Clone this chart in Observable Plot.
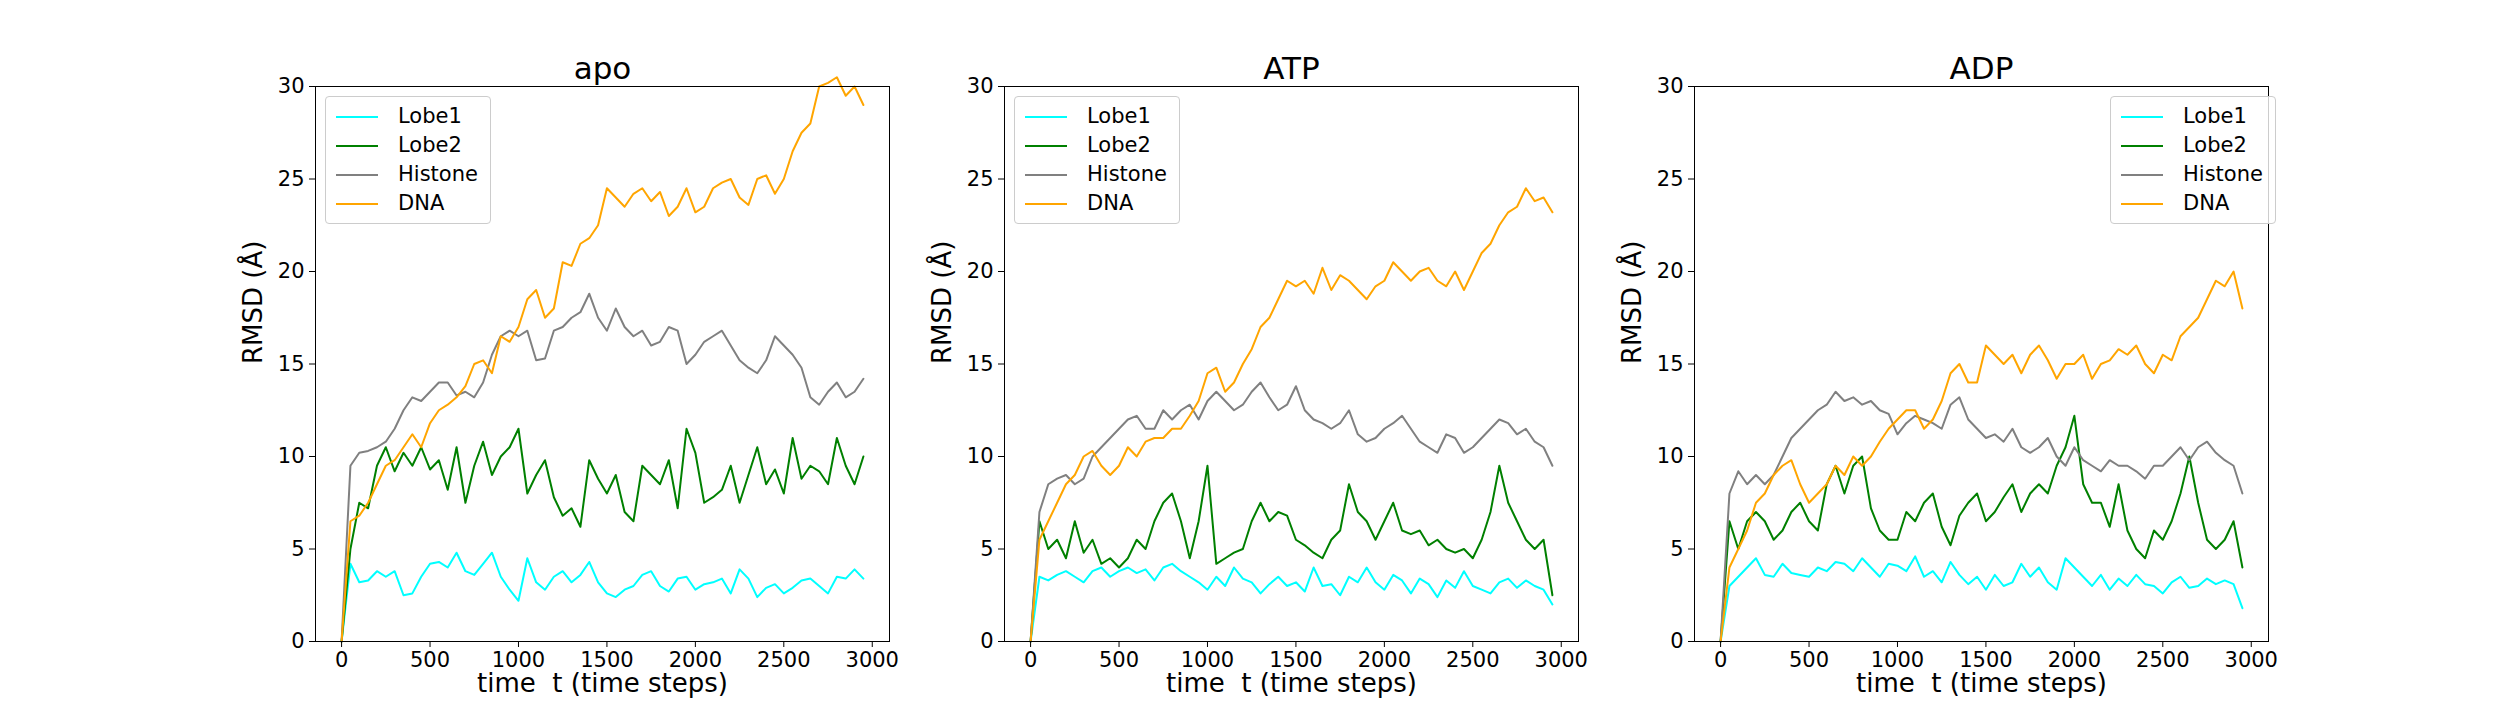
<!DOCTYPE html>
<html>
<head>
<meta charset="utf-8">
<script src="https://cdn.jsdelivr.net/npm/d3@7"></script>
<script src="https://cdn.jsdelivr.net/npm/@observablehq/plot@0.6"></script>
<style>
  body { margin: 0; background: white; font-family: "DejaVu Sans", sans-serif; }
  #wrap { position: relative; width: 2520px; height: 720px; }
  .panel { position: absolute; top: 0; }
  .legend { position: absolute; background: rgba(255,255,255,0.8); border: 1px solid #ccc; border-radius: 4px;
            padding: 5px 12px 5px 10px; font-size: 21px; line-height: 29px; }
  .legend span.sw { display: inline-block; width: 42px; height: 2px; vertical-align: middle; margin-right: 20px; }
</style>
</head>
<body>
<div id="wrap"></div>
<script>
// sampled every 50 time steps
const panels = ["apo", "ATP", "ADP"];
const seriesNames = ["Lobe1", "Lobe2", "Histone", "DNA"];
const colors = ["#00ffff", "#008000", "#808080", "#ffa500"];

const apoLobe1 = [0,4.2,3.2,3.3,3.8,3.5,3.8,2.5,2.6,3.5,4.2,4.3,4.0,4.8,3.8,3.6,4.2,4.8,3.5,2.8,2.2,4.5,3.2,2.8,3.5,3.8,3.2,3.6,4.3,3.2,2.6,2.4,2.8,3.0,3.6,3.8,3.0,2.7,3.4,3.5,2.8,3.1,3.2,3.4,2.6,3.9,3.4,2.4,2.9,3.1,2.6,2.9,3.3,3.4,3.0,2.6,3.5,3.4,3.9,3.4];
const apoLobe2 = [0,5.0,7.5,7.2,9.5,10.5,9.2,10.2,9.5,10.5,9.3,9.8,8.2,10.5,7.5,9.5,10.8,9,10,10.5,11.5,8,9,9.8,7.8,6.8,7.2,6.2,9.8,8.8,8,9,7,6.5,9.5,9,8.5,9.8,7.2,11.5,10.2,7.5,7.8,8.2,9.5,7.5,9,10.5,8.5,9.3,8,11,8.8,9.5,9.2,8.5,11,9.5,8.5,10];
const apoHistone = [0,9.5,10.2,10.3,10.5,10.8,11.5,12.5,13.2,13,13.5,14,14,13.3,13.5,13.2,14,15.5,16.5,16.8,16.5,16.8,15.2,15.3,16.8,17,17.5,17.8,18.8,17.5,16.8,18,17,16.5,16.8,16,16.2,17,16.8,15,15.5,16.2,16.5,16.8,16,15.2,14.8,14.5,15.2,16.5,16,15.5,14.8,13.2,12.8,13.5,14,13.2,13.5,14.2];
const apoDNA = [0,6.5,6.8,7.5,8.5,9.5,9.8,10.5,11.2,10.5,11.8,12.5,12.8,13.2,13.8,15,15.2,14.5,16.5,16.2,17,18.5,19,17.5,18,20.5,20.3,21.5,21.8,22.5,24.5,24,23.5,24.2,24.5,23.8,24.3,23,23.5,24.5,23.2,23.5,24.5,24.8,25,24,23.6,25,25.2,24.2,25,26.5,27.5,28,30,30.2,30.5,29.5,30,29];

const atpLobe1 = [0,3.5,3.3,3.6,3.8,3.5,3.2,3.8,4,3.5,3.8,4,3.7,3.9,3.3,4,4.2,3.8,3.5,3.2,2.8,3.5,3,4,3.4,3.2,2.6,3.1,3.5,3,3.2,2.7,4,3,3.1,2.5,3.5,3.2,4,3.2,2.8,3.6,3.3,2.6,3.4,3.1,2.4,3.3,2.9,3.8,3,2.8,2.6,3.2,3.4,2.9,3.3,3,2.8,2];
const atpLobe2 = [0,6.5,5,5.5,4.5,6.5,4.8,5.5,4.2,4.5,4,4.5,5.5,5,6.5,7.5,8,6.5,4.5,6.5,9.5,4.2,4.5,4.8,5,6.5,7.5,6.5,7,6.8,5.5,5.2,4.8,4.5,5.5,6,8.5,7,6.5,5.5,6.5,7.5,6,5.8,6,5.2,5.5,5,4.8,5,4.5,5.5,7,9.5,7.5,6.5,5.5,5,5.5,2.5];
const atpHistone = [0,7,8.5,8.8,9,8.5,8.8,10,10.5,11,11.5,12,12.2,11.5,11.5,12.5,12,12.5,12.8,12,13,13.5,13,12.5,12.8,13.5,14,13.2,12.5,12.8,13.8,12.5,12,11.8,11.5,11.8,12.5,11.2,10.8,11,11.5,11.8,12.2,11.5,10.8,10.5,10.2,11.2,11,10.2,10.5,11,11.5,12,11.8,11.2,11.5,10.8,10.5,9.5];
const atpDNA = [0,5.5,6.5,7.5,8.5,9,10,10.3,9.5,9,9.5,10.5,10,10.8,11,11,11.5,11.5,12.2,13,14.5,14.8,13.5,14,15,15.8,17,17.5,18.5,19.5,19.2,19.5,18.8,20.2,19,19.8,19.5,19,18.5,19.2,19.5,20.5,20,19.5,20,20.2,19.5,19.2,20,19,20,21,21.5,22.5,23.2,23.5,24.5,23.8,24,23.2];

const adpLobe1 = [0,3,3.5,4,4.5,3.6,3.5,4.2,3.7,3.6,3.5,4,3.8,4.3,4.2,3.8,4.5,4,3.5,4.2,4.1,3.8,4.6,3.5,3.8,3.2,4.3,3.6,3.1,3.5,2.8,3.6,3,3.2,4.2,3.5,4,3.2,2.8,4.5,4,3.5,3,3.6,2.8,3.4,3,3.6,3.1,3,2.6,3.2,3.5,2.9,3,3.4,3.1,3.3,3.1,1.8];
const adpLobe2 = [0,6.5,5,6.5,7,6.5,5.5,6,7,7.5,6.5,6,8.5,9.5,8,9.5,10,7.2,6,5.5,5.5,7,6.5,7.5,8,6.2,5.2,6.8,7.5,8,6.5,7,7.8,8.5,7,8,8.5,8,9.5,10.5,12.2,8.5,7.5,7.5,6.2,8.5,6,5,4.5,6,5.5,6.5,8,10,7.5,5.5,5,5.5,6.5,4];
const adpHistone = [0,8,9.2,8.5,9,8.5,9,10,11,11.5,12,12.5,12.8,13.5,13,13.2,12.8,13,12.5,12.3,11.2,11.8,12.2,12,11.8,11.5,12.8,13.2,12,11.5,11,11.2,10.8,11.5,10.5,10.2,10.5,11,10,9.5,10.5,9.8,9.5,9.2,9.8,9.5,9.5,9.2,8.8,9.5,9.5,10,10.5,9.8,10.5,10.8,10.2,9.8,9.5,8];
const adpDNA = [0,4,5,6,7.5,8,9,9.5,9.8,8.5,7.5,8,8.5,9.5,9,10,9.5,10,10.8,11.5,12,12.5,12.5,11.5,12,13,14.5,15,14,14,16,15.5,15,15.5,14.5,15.5,16,15.2,14.2,15,15,15.5,14.2,15,15.2,15.8,15.5,16,15,14.5,15.5,15.2,16.5,17,17.5,18.5,19.5,19.2,20,18];

const panelSeries = [
  [apoLobe1, apoLobe2, apoHistone, apoDNA],
  [atpLobe1, atpLobe2, atpHistone, atpDNA],
  [adpLobe1, adpLobe2, adpHistone, adpDNA],
];
const xTicks = [0, 500, 1000, 1500, 2000, 2500, 3000];
const yTicks = [0, 5, 10, 15, 20, 25, 30];

const axLefts = [315, 1004, 1694];
const axW = 574, mL = 110, mR = 40, mT = 86, mB = 79;
const wrap = document.getElementById("wrap");

panels.forEach((name, p) => {
  const rows = [];
  panelSeries[p].forEach((vals, s) => {
    vals.forEach((v, i) => rows.push({t: i * 50, v, s: seriesNames[s]}));
  });
  const chart = Plot.plot({
    width: mL + axW + mR, height: 720,
    marginLeft: mL, marginRight: mR, marginTop: mT, marginBottom: mB,
    style: {"font-family": "DejaVu Sans, sans-serif", "font-size": "21px", color: "black", background: "transparent"},
    x: {domain: [-147.5, 3097.5], label: null},
    y: {domain: [0, 30], label: null},
    color: {domain: seriesNames, range: colors},
    marks: [
      Plot.line(rows, {x: "t", y: "v", z: "s", stroke: "s", strokeWidth: 2}),
      Plot.axisX({ticks: xTicks, tickSize: 6, tickPadding: 5, fontSize: 21, tickFormat: d3.format("d"), label: null}),
      Plot.axisY({ticks: yTicks, tickSize: 6, tickPadding: 5, fontSize: 21, tickFormat: d3.format("d"), label: null}),
      Plot.frame({stroke: "black", strokeWidth: 1}),
      Plot.text([name], {frameAnchor: "top", dy: -8, fontSize: 31, lineAnchor: "bottom", text: d => d}),
      Plot.text(["time  t (time steps)"], {frameAnchor: "bottom", dy: 50, fontSize: 26, text: d => d}),
      Plot.text(["RMSD (Å)"], {frameAnchor: "left", dx: -62, rotate: -90, fontSize: 26, text: d => d}),
    ]
  });
  const div = document.createElement("div");
  div.className = "panel";
  div.style.left = (axLefts[p] - mL) + "px";
  div.appendChild(chart);
  wrap.appendChild(div);

  const lg = document.createElement("div");
  lg.className = "legend";
  lg.style.top = "96px";
  if (p === 2) lg.style.left = (axLefts[p] + axW - 10 - 148) + "px";
  else lg.style.left = (axLefts[p] + 10) + "px";
  lg.innerHTML = seriesNames.map((n, i) =>
    `<div><span class="sw" style="background:${colors[i]}"></span>${n}</div>`).join("");
  wrap.appendChild(lg);
});
</script>
</body>
</html>
